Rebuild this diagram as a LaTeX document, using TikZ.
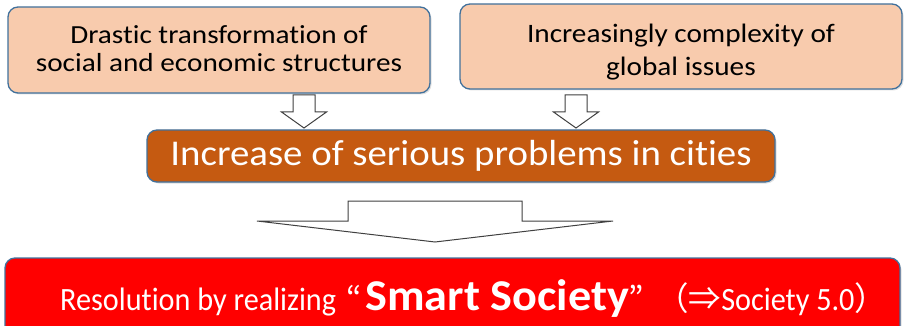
\documentclass[tikz,border=0pt]{standalone}
\usepackage{fontspec}
\setmainfont[Ligatures=NoCommon]{Carlito}
\newfontfamily\fone[FakeStretch=1.12,Ligatures=NoCommon]{Carlito}
\newfontfamily\ftwo[FakeStretch=1.10,Ligatures=NoCommon]{Carlito}
\newfontfamily\fmid[FakeStretch=1.07,Ligatures=NoCommon]{Carlito}
\newfontfamily\fbot[FakeStretch=0.93,Ligatures=NoCommon]{Carlito}
\newfontfamily\fbold[FakeStretch=1.05,Ligatures=NoCommon]{Carlito Bold}
\newfontfamily\cjk{Noto Sans CJK JP}
\usetikzlibrary{shadows,calc}
\definecolor{peach}{HTML}{F8CBAD}
\definecolor{rust}{HTML}{C55A11}
\definecolor{bord}{HTML}{41719C}
\definecolor{arrowline}{HTML}{404040}
\begin{document}
\begin{tikzpicture}[x=1pt,y=-1pt,
  box/.style={draw=bord, line width=1.3pt, rounded corners=10pt, inner sep=0pt,
    drop shadow={shadow xshift=1.5pt, shadow yshift=-1.5pt, opacity=0.25}},
  boxtext/.style={inner sep=0pt, align=center},
  blockarrow/.style={draw=arrowline, fill=white, line width=1pt, line join=miter}]
\useasboundingbox (0,0) rectangle (905,326);
% boxes
\node[box, fill=peach, minimum width=422pt, minimum height=86pt] (b1) at (219,50) {};
\node[box, fill=peach, minimum width=442pt, minimum height=85pt] (b2) at (681,46.5) {};
\node[box, fill=rust, minimum width=628pt, minimum height=52pt] (mid) at (461,156) {};
\node[box, fill=red, minimum width=895pt, minimum height=84pt] (bot) at (452.5,300) {};
% texts
\node[boxtext, font=\fone\fontsize{26.1}{28}\selectfont, text=black, yshift=1pt] (t1) at (b1.center)
  {Drastic transformation of\\social and economic structures};
\node[boxtext, font=\ftwo\fontsize{26.6}{33}\selectfont, text=black, yshift=-6pt] (t2) at (b2.center)
  {Increasingly complexity of\\global issues};
\node[boxtext, font=\fmid\fontsize{36.3}{43}\selectfont, text=white] (t3) at (mid.center)
  {Increase of serious problems in cities};
\node[text=white, inner sep=0pt, anchor=base west, font=\fbot\fontsize{32.5}{39}\selectfont] (t4) at (60,310)
  {Resolution by realizing\hspace{10pt}{\cjk “}\hspace{4pt}{\fbold\fontsize{44}{50}\selectfont Smart Society}{\cjk ”}\hspace{12pt}{\cjk （⇒}Society 5.0{\cjk ）}};
% small arrows
\coordinate (a1tip) at (304,128);
\coordinate (a2tip) at (576,128);
\draw[blockarrow] (293,95) -- (315,95) -- (315,112) -- (326.5,112) -- (a1tip) -- (281.5,112) -- (293,112) -- cycle;
\draw[blockarrow] (565,95) -- (587,95) -- (587,112) -- (598.5,112) -- (a2tip) -- (553.5,112) -- (565,112) -- cycle;
% big arrow
\coordinate (btip) at (435,242);
\draw[blockarrow] (348,201) -- (522,201) -- (522,221) -- (613,221) -- (btip) -- (257,221) -- (348,221) -- cycle;
\end{tikzpicture}
\end{document}
